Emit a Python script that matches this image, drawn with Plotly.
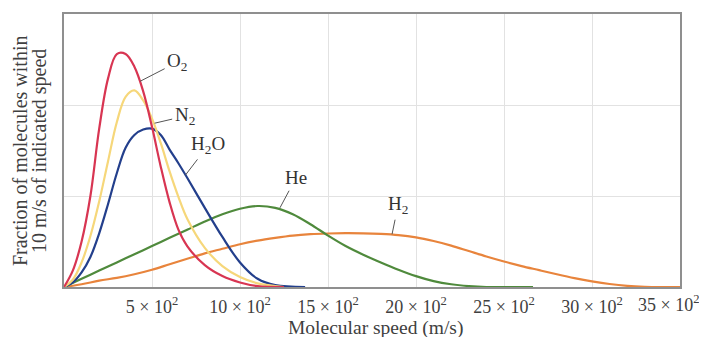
import plotly.graph_objects as go

# Speeds (m/s) and fractions (grid units)
o2_v = [0, 50, 100, 150, 200, 250, 300, 350, 400, 450, 500, 550, 600, 650, 700, 800, 900, 1000, 1100, 1250]
o2_f = [0, 0.18, 0.50, 1.00, 1.74, 2.29, 2.56, 2.56, 2.42, 2.15, 1.76, 1.32, 0.93, 0.63, 0.45, 0.24, 0.12, 0.05, 0.01, 0.0]

n2_v = [0, 50, 100, 150, 200, 250, 300, 350, 400, 450, 500, 550, 600, 650, 700, 800, 900, 1000, 1100, 1250]
n2_f = [0, 0.08, 0.27, 0.56, 0.94, 1.38, 1.81, 2.09, 2.16, 2.05, 1.85, 1.58, 1.27, 0.99, 0.75, 0.43, 0.23, 0.11, 0.04, 0.0]

h2o_v = [0, 50, 100, 150, 200, 250, 300, 350, 400, 450, 500, 550, 600, 650, 700, 800, 900, 1000, 1100, 1200, 1370]
h2o_f = [0, 0.05, 0.16, 0.33, 0.59, 0.91, 1.25, 1.53, 1.67, 1.73, 1.74, 1.67, 1.51, 1.36, 1.20, 0.87, 0.55, 0.27, 0.09, 0.02, 0.0]

he_v = [0, 100, 200, 300, 400, 500, 600, 700, 800, 900, 1000, 1100, 1200, 1300, 1400, 1500, 1600, 1700, 1800, 1900, 2000, 2100, 2200, 2300, 2400, 2665]
he_f = [0, 0.09, 0.18, 0.27, 0.36, 0.45, 0.54, 0.63, 0.72, 0.80, 0.86, 0.89, 0.87, 0.80, 0.69, 0.565, 0.45, 0.355, 0.27, 0.19, 0.12, 0.065, 0.03, 0.01, 0.0, 0.0]

h2_v = [0, 100, 200, 300, 400, 500, 600, 700, 800, 900, 1000, 1100, 1200, 1300, 1400, 1500, 1600, 1700, 1800,
        1900, 2000, 2100, 2200, 2300, 2400, 2500, 2600, 2700, 2800, 2900, 3000, 3100, 3200, 3300, 3400, 3500]
h2_f = [0, 0.03, 0.07, 0.10, 0.14, 0.19, 0.25, 0.31, 0.37, 0.42, 0.47, 0.51, 0.54, 0.565, 0.58, 0.588, 0.592, 0.59, 0.583,
        0.57, 0.545, 0.505, 0.455, 0.395, 0.335, 0.28, 0.23, 0.185, 0.14, 0.098, 0.062, 0.033, 0.013, 0.003, 0.0, 0.0]

tick_vals = [500, 1000, 1500, 2000, 2500, 3000]
tick_text = ["5 × 10<sup>2</sup>", "10 × 10<sup>2</sup>", "15 × 10<sup>2</sup>", "20 × 10<sup>2</sup>",
             "25 × 10<sup>2</sup>", "30 × 10<sup>2</sup>"]
last_tick_text = "35 × 10<sup>2</sup>"

series = [
    ("H<sub>2</sub>", h2_v, h2_f, "#e8843c"),
    ("He", he_v, he_f, "#4f8a3c"),
    ("H<sub>2</sub>O", h2o_v, h2o_f, "#233f8c"),
    ("N<sub>2</sub>", n2_v, n2_f, "#f6d77a"),
    ("O<sub>2</sub>", o2_v, o2_f, "#d83552"),
]

# label: (text, point speed, point fraction, ax, ay)
labels = [
    ("O<sub>2</sub>", 432, 2.26, 37, -19),
    ("N<sub>2</sub>", 515, 1.80, 30, -7),
    ("H<sub>2</sub>O", 690, 1.23, 23, -30),
    ("He", 1227, 0.87, 16, -30),
    ("H<sub>2</sub>", 1864, 0.58, 6, -29),
]

SERIF = "Liberation Serif"
TXT = "#404040"

fig = go.Figure()
for name, v, f, c in series:
    fig.add_trace(go.Scatter(x=v, y=f, mode="lines", name=name,
                             line=dict(color=c, width=2.2, shape="spline", smoothing=1.0),
                             showlegend=False, hoverinfo="skip"))

for text, x, y, ax, ay in labels:
    fig.add_annotation(x=x, y=y, text=text, showarrow=True, arrowhead=0, arrowwidth=1,
                       arrowcolor="#555555", ax=ax, ay=ay, standoff=0, startstandoff=1,
                       font=dict(family=SERIF, size=19, color="#333333"))

# last tick label (shifted left in the original so it stays inside the picture)
fig.add_annotation(x=3432, y=0, yref="paper", text=last_tick_text, showarrow=False,
                   yanchor="middle", yshift=-16, font=dict(family=SERIF, size=18, color=TXT))

# axis titles
fig.add_annotation(x=0.505, y=0, xref="paper", yref="paper", text="Molecular speed (m/s)",
                   showarrow=False, yanchor="middle", yshift=-41,
                   font=dict(family=SERIF, size=19.5, color=TXT))
fig.add_annotation(x=-0.0714, y=0.498, xref="paper", yref="paper", text="Fraction of molecules within",
                   showarrow=False, textangle=-90, xanchor="center", yanchor="middle",
                   font=dict(family=SERIF, size=20, color=TXT))
fig.add_annotation(x=-0.0406, y=0.498, xref="paper", yref="paper", text="10 m/s of indicated speed",
                   showarrow=False, textangle=-90, xanchor="center", yanchor="middle",
                   font=dict(family=SERIF, size=20, color=TXT))

fig.update_layout(
    width=699, height=329,
    margin=dict(l=56, r=27, t=4, b=50),
    paper_bgcolor="white", plot_bgcolor="white",
    font=dict(family=SERIF, size=18, color=TXT),
    xaxis=dict(range=[0, 3500], tickvals=tick_vals, ticktext=tick_text,
               showgrid=True, gridcolor="#e2e2e2", gridwidth=1,
               showline=True, linecolor="#8f8f8f", linewidth=2, mirror=True,
               ticks="", zeroline=False, ticklabelstandoff=2,
               tickfont=dict(family=SERIF, size=18, color=TXT)),
    yaxis=dict(range=[0, 3], tickvals=[1, 2], showticklabels=False,
               showgrid=True, gridcolor="#e2e2e2", gridwidth=1,
               showline=True, linecolor="#8f8f8f", linewidth=2, mirror=True,
               ticks="", zeroline=False),
)

fig.write_html("out.html")
